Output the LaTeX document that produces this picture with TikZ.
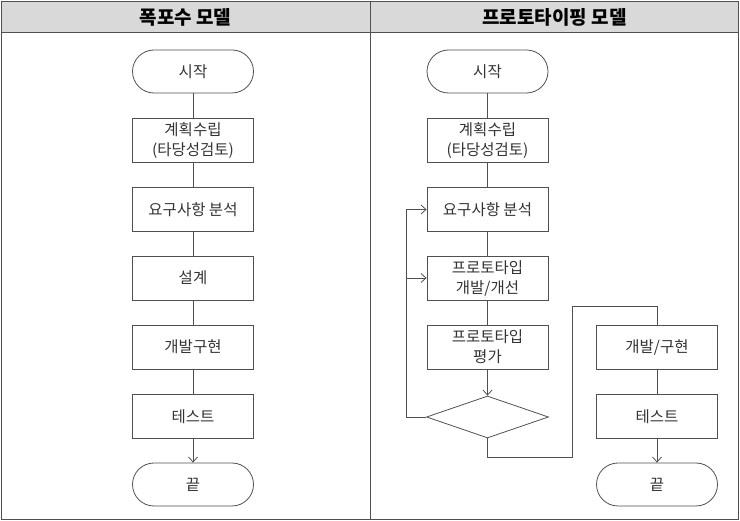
\documentclass[tikz,border=0pt]{standalone}
\usepackage{fontspec}
\setmainfont{Noto Sans CJK KR}
\usetikzlibrary{shapes.geometric,arrows.meta}
\definecolor{ln}{HTML}{505050}
\definecolor{hd}{HTML}{D9D9D9}
\definecolor{tx}{HTML}{333333}
\tikzset{
  procbox/.style={draw=ln, line width=0.8pt, minimum width=121pt, minimum height=44pt, inner sep=0pt, align=center, text=tx, font=\fontsize{15.5}{20}\selectfont},
  termbox/.style={procbox, minimum height=43pt, rounded corners=21.5pt},
  decbox/.style={draw=ln, line width=0.8pt, diamond, minimum width=122pt, minimum height=42pt, inner sep=0pt},
  conn/.style={draw=ln, line width=0.8pt},
  arr/.style={conn, -{Straight Barb[length=5pt,width=9pt]}},
  title/.style={font=\fontsize{19}{22}\selectfont\bfseries, text=black}
}
\begin{document}
\begin{tikzpicture}[x=1pt,y=-1pt]
\useasboundingbox (0,0) rectangle (740,521);
\fill[hd] (1.5,1.5) rectangle (738.5,33);
\draw[ln, line width=1pt] (1.5,1.5) rectangle (738.5,519.5);
\draw[ln, line width=1pt] (1.5,33) -- (738.5,33);
\draw[ln, line width=1pt] (370,1.5) -- (370,519.5);
\node[title] (t1) at (185.5,17) {폭포수 모델};
\node[title] (t2) at (554.5,17) {프로토타이핑 모델};
% left column
\node[termbox] (lstart) at (193,71.5) {시작};
\node[procbox] (lplan) at (193,140.5) {계획수립\\(타당성검토)};
\node[procbox] (lreq) at (193,209.5) {요구사항 분석};
\node[procbox] (ldes) at (193,278) {설계};
\node[procbox] (ldev) at (193,347) {개발구현};
\node[procbox] (ltest) at (193,416.5) {테스트};
\node[termbox] (lend) at (193,484.5) {끝};
\draw[conn] (lstart) -- (lplan);
\draw[conn] (lplan) -- (lreq);
\draw[conn] (lreq) -- (ldes);
\draw[conn] (ldes) -- (ldev);
\draw[conn] (ldev) -- (ltest);
\draw[arr] (ltest) -- (lend);
% right column
\node[termbox] (rstart) at (487.5,71.5) {시작};
\node[procbox] (rplan) at (487.5,140.5) {계획수립\\(타당성검토)};
\node[procbox] (rreq) at (487.5,209.5) {요구사항 분석};
\node[procbox] (rproto) at (487.5,278) {프로토타입\\개발/개선};
\node[procbox] (reval) at (487.5,347) {프로토타입\\평가};
\node[decbox] (dia) at (487.5,417) {};
\node[procbox] (rdev) at (657,347) {개발/구현};
\node[procbox] (rtest) at (657,416.5) {테스트};
\node[termbox] (rend) at (657,484.5) {끝};
\draw[conn] (rstart) -- (rplan);
\draw[conn] (rplan) -- (rreq);
\draw[conn] (rreq) -- (rproto);
\draw[conn] (rproto) -- (reval);
\draw[arr] (reval) -- (dia);
\coordinate (lp) at (406,417);
\draw[arr] (dia.west) -- (lp) |- (rreq.west);
\draw[arr] (lp |- rproto.west) -- (rproto.west);
\coordinate (b1) at (572,457);
\coordinate (b2) at (572,306);
\draw[conn] (dia.south) |- (b1) -- (b2) -| (rdev.north);
\draw[conn] (rdev) -- (rtest);
\draw[arr] (rtest) -- (rend);
\end{tikzpicture}
\end{document}
